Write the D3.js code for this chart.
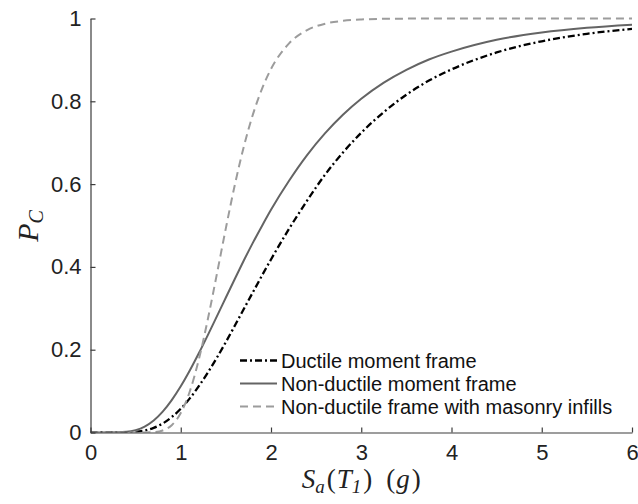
<!DOCTYPE html>
<html>
<head>
<meta charset="utf-8">
<script src="https://cdn.jsdelivr.net/npm/d3@7"></script>
<style>
  html, body { margin: 0; padding: 0; background: #fff; }
  svg { display: block; }
</style>
</head>
<body>
<div id="chart"></div>
<script>
// Spectral acceleration Sa(T1) in g at which the collapse probability is tabulated
const saValues = [0, 0.2, 0.4, 0.5, 0.6, 0.7, 0.8, 0.9, 1.0, 1.1, 1.2, 1.3, 1.4, 1.5, 1.6, 1.7, 1.8, 1.9,
                  2.0, 2.2, 2.4, 2.6, 2.8, 3.0, 3.25, 3.5, 3.75, 4.0, 4.5, 5.0, 5.5, 6.0];

// Collapse probability P_C for each frame type
const ductileFrame = [0, 0, 0.0003, 0.0016, 0.0048, 0.0113, 0.0217, 0.0371, 0.0574, 0.0824, 0.1118, 0.1448,
                      0.1806, 0.2186, 0.2585, 0.2988, 0.339, 0.379, 0.418, 0.492, 0.560, 0.623, 0.677, 0.724,
                      0.774, 0.816, 0.850, 0.877, 0.918, 0.945, 0.963, 0.975];
const nonDuctileFrame = [0, 0, 0.0016, 0.0057, 0.0144, 0.0291, 0.0505, 0.0783, 0.1116, 0.1497, 0.1913, 0.2352,
                         0.2805, 0.326, 0.3715, 0.416, 0.4586, 0.499, 0.538, 0.608, 0.670, 0.723, 0.768, 0.806,
                         0.845, 0.876, 0.901, 0.920, 0.9486, 0.9664, 0.9778, 0.9852];
const infilledFrame = [0, 0, 0, 0, 0.0001, 0.0008, 0.0048, 0.0176, 0.0469, 0.099, 0.176, 0.2735,
                       0.3825, 0.4936, 0.599, 0.6915, 0.7685, 0.830, 0.878, 0.9398, 0.9719, 0.9875, 0.9945, 0.9977,
                       0.9992, 0.9997, 0.9999, 1.0, 1.0, 1.0, 1.0, 1.0];

const xTicks = [0, 1, 2, 3, 4, 5, 6];
const yTicks = [0, 0.2, 0.4, 0.6, 0.8, 1];
const yTickLabels = ["0", "0.2", "0.4", "0.6", "0.8", "1"];

const seriesNames = ["Ductile moment frame", "Non-ductile moment frame", "Non-ductile frame with masonry infills"];
const seriesValues = [ductileFrame, nonDuctileFrame, infilledFrame];
const seriesColors = ["#000000", "#646464", "#9c9c9c"];
const seriesDash = ["7,3,2,3", null, "8,5"];
const seriesWidth = [2.3, 2, 2];

const W = 638, H = 504;
const svg = d3.select("#chart").append("svg")
  .attr("width", W).attr("height", H)
  .style("font-family", "'Liberation Sans', Arial, Helvetica, sans-serif");

svg.append("rect").attr("width", W).attr("height", H).attr("fill", "#fff");

const x = d3.scaleLinear().domain([0, 6]).range([90.5, 632]);
const y = d3.scaleLinear().domain([0, 1]).range([432.5, 18.5]);

// clip curves to the plotting area
svg.append("clipPath").attr("id", "plotArea")
  .append("rect").attr("x", x(0)).attr("y", y(1) - 3)
  .attr("width", x(6) - x(0)).attr("height", y(0) - y(1) + 3);

const line = d3.line()
  .x((d, i) => x(saValues[i]))
  .y(d => y(d))
  .curve(d3.curveMonotoneX);

const curves = svg.append("g").attr("clip-path", "url(#plotArea)");
seriesValues.forEach((vals, k) => {
  curves.append("path")
    .datum(vals)
    .attr("d", line)
    .attr("fill", "none")
    .attr("stroke", seriesColors[k])
    .attr("stroke-width", seriesWidth[k])
    .attr("stroke-dasharray", seriesDash[k])
    .attr("stroke-linejoin", "round");
});

// axes: left and bottom only, ticks pointing inward
const axisColor = "#3c3c3c";
const xAxis = svg.append("g").attr("transform", `translate(0,${y(0)})`)
  .call(d3.axisBottom(x).tickValues(xTicks).tickSizeInner(-5).tickSizeOuter(0).tickPadding(12).tickFormat(d3.format("d")));
const yAxis = svg.append("g").attr("transform", `translate(${x(0)},0)`)
  .call(d3.axisLeft(y).tickValues(yTicks).tickSizeInner(-5).tickSizeOuter(0).tickPadding(9)
    .tickFormat((d, i) => yTickLabels[i]));

[xAxis, yAxis].forEach(g => {
  g.select(".domain").attr("stroke", axisColor).attr("stroke-width", 1.2);
  g.selectAll(".tick line").attr("stroke", axisColor).attr("stroke-width", 1.2);
  g.selectAll(".tick text").attr("fill", "#222").style("font-size", "22px")
    .style("font-family", "'Liberation Sans', Arial, Helvetica, sans-serif");
});
xAxis.selectAll(".tick text").attr("dy", "0.72em");

// axis titles in math italics
const mathFont = "'Liberation Serif', 'Times New Roman', serif";
const xt = svg.append("text")
  .attr("x", x(3)).attr("y", 488)
  .attr("text-anchor", "middle")
  .style("font-family", mathFont).style("font-size", "27px").attr("fill", "#222");
xt.append("tspan").style("font-style", "italic").text("S");
xt.append("tspan").style("font-style", "italic").style("font-size", "19px").attr("dy", 5).text("a");
xt.append("tspan").attr("dy", -5).attr("dx", 2).text("(");
xt.append("tspan").style("font-style", "italic").attr("dx", 1).text("T");
xt.append("tspan").style("font-style", "italic").style("font-size", "19px").attr("dy", 5).text("1");
xt.append("tspan").attr("dy", -5).attr("dx", 2).text(")");
xt.append("tspan").attr("dx", 14).text("(");
xt.append("tspan").style("font-style", "italic").attr("dx", 1).text("g");
xt.append("tspan").attr("dx", 2).text(")");

const yt = svg.append("text")
  .attr("transform", "translate(38,226) rotate(-90)")
  .attr("text-anchor", "middle")
  .style("font-family", mathFont).style("font-size", "30px").attr("fill", "#222");
yt.append("tspan").style("font-style", "italic").text("P");
yt.append("tspan").style("font-style", "italic").style("font-size", "20px").attr("dy", 5).text("C");

// legend (no frame)
const legendRows = [360.5, 383.5, 406.5];
const legend = svg.append("g");
seriesNames.forEach((name, k) => {
  legend.append("line")
    .attr("x1", 240).attr("x2", 277)
    .attr("y1", legendRows[k]).attr("y2", legendRows[k])
    .attr("stroke", seriesColors[k])
    .attr("stroke-width", seriesWidth[k])
    .attr("stroke-dasharray", seriesDash[k]);
  legend.append("text")
    .attr("x", 281).attr("y", legendRows[k]).attr("dy", "0.35em")
    .style("font-size", "20px").attr("fill", "#111")
    .text(name);
});
</script>
</body>
</html>
